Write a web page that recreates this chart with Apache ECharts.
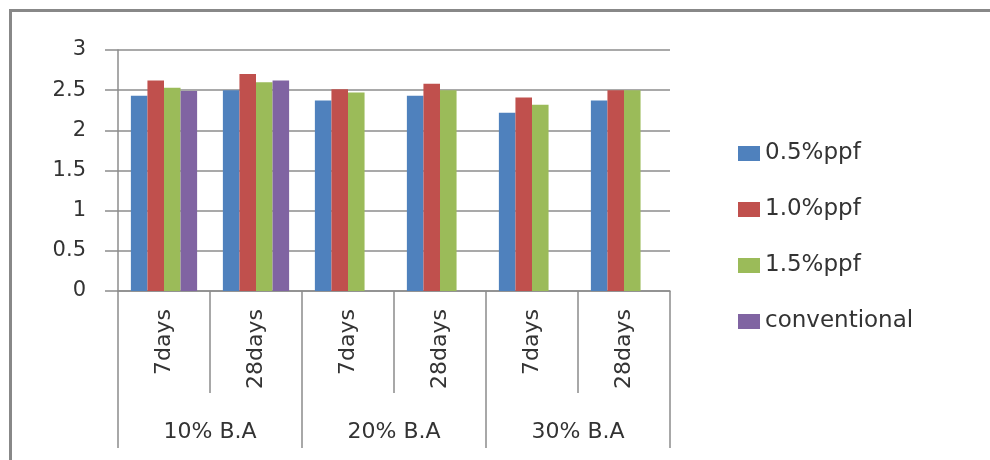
<!DOCTYPE html>
<html>
<head>
<meta charset="utf-8">
<script src="https://cdn.jsdelivr.net/npm/echarts@6/dist/echarts.min.js"></script>
<style>
html,body{margin:0;padding:0;background:#fff;}
#c{width:990px;height:460px;}
</style>
</head>
<body>
<div id="c"></div>
<script>
var categories = ['7days', '28days', '7days', '28days', '7days', '28days'];
var groups = ['10% B.A', '20% B.A', '30% B.A'];
var yTicks = [0, 0.5, 1, 1.5, 2, 2.5, 3];
var seriesNames = ['0.5%ppf', '1.0%ppf', '1.5%ppf', 'conventional'];
var ppf05 = [2.43, 2.50, 2.37, 2.43, 2.22, 2.37];
var ppf10 = [2.62, 2.70, 2.51, 2.58, 2.41, 2.50];
var ppf15 = [2.53, 2.60, 2.47, 2.50, 2.32, 2.50];
var conventional = [2.49, 2.62, null, null, null, null];
var colors = ['#4F81BD', '#C0504D', '#9BBB59', '#8064A2'];

var font = 'DejaVu Sans';
var lineCol = '#8c8c8c';
var txtCol = '#333333';
var values = [ppf05, ppf10, ppf15, conventional];

var chart = echarts.init(document.getElementById('c'), null, {renderer: 'canvas'});
var option = {
  animation: false,
  backgroundColor: '#ffffff',
  color: colors,
  textStyle: {fontFamily: font},
  grid: {left: 118, right: 320, top: 50, bottom: 169, containLabel: false},
  legend: {
    orient: 'vertical',
    left: 738,
    top: 141,
    padding: 0,
    itemWidth: 22,
    itemHeight: 15,
    itemGap: 31,
    icon: 'rect',
    data: seriesNames,
    textStyle: {fontFamily: font, fontSize: 23, color: txtCol, lineHeight: 25}
  },
  xAxis: [
    {
      type: 'category',
      data: categories,
      position: 'bottom',
      axisLine: {show: true, lineStyle: {color: lineCol, width: 1.5}},
      axisTick: {show: true, length: 102, interval: 0, lineStyle: {color: lineCol, width: 1.5}},
      axisLabel: {rotate: 90, interval: 0, margin: 18, fontFamily: font, fontSize: 22, color: txtCol}
    },
    {
      type: 'category',
      data: groups,
      position: 'bottom',
      axisLine: {show: false},
      axisTick: {show: true, length: 157, interval: 0, lineStyle: {color: lineCol, width: 1.5}},
      axisLabel: {interval: 0, margin: 130, fontFamily: font, fontSize: 22, color: txtCol}
    }
  ],
  yAxis: {
    type: 'value',
    min: yTicks[0],
    max: yTicks[yTicks.length - 1],
    interval: 0.5,
    axisLine: {show: true, lineStyle: {color: lineCol, width: 1.5}},
    axisTick: {show: true, length: 13, lineStyle: {color: lineCol, width: 1.5}},
    axisLabel: {margin: 32, fontFamily: font, fontSize: 21, color: txtCol},
    splitLine: {show: true, lineStyle: {color: lineCol, width: 1.5}}
  },
  series: seriesNames.map(function (n, i) {
    return {
      name: n,
      type: 'bar',
      xAxisIndex: 0,
      data: values[i],
      barGap: '0%',
      barCategoryGap: '28%',
      itemStyle: {color: colors[i]}
    };
  }),
  graphic: [
    {type: 'line', shape: {x1: 10, y1: 10.5, x2: 990, y2: 10.5}, style: {stroke: '#888888', lineWidth: 3}, silent: true},
    {type: 'line', shape: {x1: 10.5, y1: 9, x2: 10.5, y2: 460}, style: {stroke: '#888888', lineWidth: 3}, silent: true}
  ]
};
chart.setOption(option);
</script>
</body>
</html>
